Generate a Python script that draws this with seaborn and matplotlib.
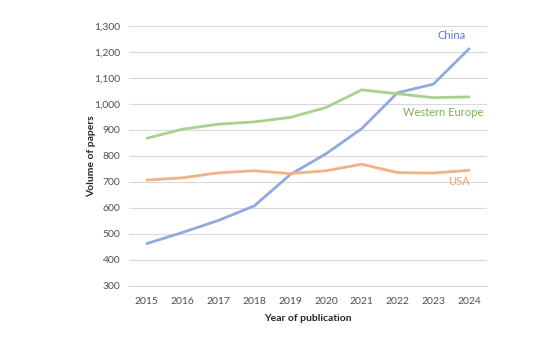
import matplotlib.pyplot as plt
import pandas as pd
import seaborn as sns
from matplotlib.ticker import FuncFormatter

years = [2015, 2016, 2017, 2018, 2019, 2020, 2021, 2022, 2023, 2024]
china = [463, 506, 552, 608, 728, 808, 905, 1043, 1076, 1212]
western_europe = [868, 903, 922, 931, 948, 986, 1054, 1039, 1024, 1027]
usa = [707, 716, 735, 743, 732, 743, 768, 736, 734, 745]

regions = ["China", "Western Europe", "USA"]
line_colors = ["#8faadc", "#a9d18e", "#f4b183"]
text_colors = ["#5b7fc9", "#78b155", "#f0a070"]

df = pd.DataFrame({
    "year": years * 3,
    "papers": china + western_europe + usa,
    "region": [r for r in regions for _ in years],
})

sns.set_style("white")
plt.rcParams["font.family"] = ["Lato", "DejaVu Sans"]

fig = plt.figure(figsize=(5.5, 3.5), dpi=100)
ax = fig.add_axes([0.2345, 0.183, 0.651, 0.743])

sns.lineplot(data=df, x="year", y="papers", hue="region", hue_order=regions,
             palette=line_colors, linewidth=2, legend=False, ax=ax)

ax.set_xlim(2014.5, 2024.5)
ax.set_ylim(300, 1300)
ax.set_xticks(years)
ax.set_yticks(range(300, 1301, 100))
ax.yaxis.set_major_formatter(FuncFormatter(lambda v, p: f"{int(v):,}"))
ax.grid(axis="y", color="#d9d9d9", linewidth=0.8)
ax.set_axisbelow(True)
for s in ["top", "right", "left"]:
    ax.spines[s].set_visible(False)
ax.spines["bottom"].set_color("#d9d9d9")
ax.tick_params(axis="x", length=0, labelsize=7.5, colors="#505050", pad=8)
ax.tick_params(axis="y", length=0, labelsize=7.5, colors="#505050", pad=6)

ax.set_xlabel("Year of publication", fontsize=7.5, fontweight="bold", color="#262626", labelpad=6)
ax.set_ylabel("Volume of papers", fontsize=7.5, fontweight="bold", color="#262626", labelpad=-1)

# series labels placed near line ends
ax.text(2023.5, 1265, "China", color=text_colors[0], fontsize=8, ha="center", va="center")
ax.text(2023.26, 968, "Western Europe", color=text_colors[1], fontsize=8, ha="center", va="center")
ax.text(2023.72, 700, "USA", color=text_colors[2], fontsize=8, ha="center", va="center")

fig.savefig("out.png", dpi=100)
